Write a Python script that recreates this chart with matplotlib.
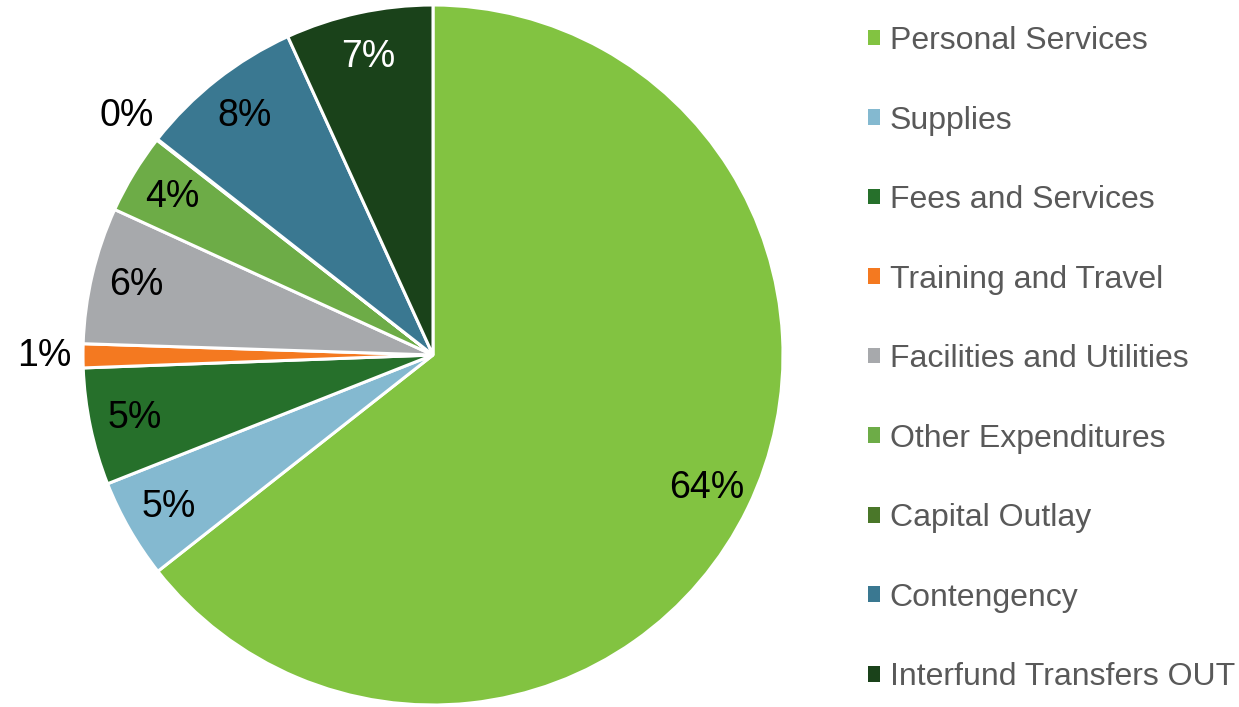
import numpy as np
import matplotlib
matplotlib.use('Agg')
import matplotlib.pyplot as plt
from matplotlib.patches import Patch

categories = ['Personal Services', 'Supplies', 'Fees and Services', 'Training and Travel',
              'Facilities and Utilities', 'Other Expenditures', 'Capital Outlay',
              'Contengency', 'Interfund Transfers OUT']
shares = [64.3, 4.6, 5.4, 1.1, 6.3, 3.7, 0.05, 7.6, 6.8]
colors = ['#82C341', '#84B9D0', '#26702B', '#F47920', '#A7A9AC',
          '#6DAC47', '#4A7729', '#3A7891', '#1A421A']
outside = ['Training and Travel', 'Capital Outlay']

plt.rcParams['font.family'] = ['Liberation Sans', 'DejaVu Sans']

W, H = 1239, 707
fig = plt.figure(figsize=(W / 100, H / 100), dpi=100)
cx, cy, r = 433, 355, 350
ax = fig.add_axes([(cx - r) / W, (H - cy - r) / H, 2 * r / W, 2 * r / H])

wedges, _ = ax.pie(shares, colors=colors, startangle=90, counterclock=False,
                   radius=1, wedgeprops=dict(edgecolor='white', linewidth=2.2))
ax.set_xlim(-1, 1)
ax.set_ylim(-1, 1)
ax.set_aspect('equal')

total = sum(shares)
for w, name, val in zip(wedges, categories, shares):
    mid = np.deg2rad((w.theta1 + w.theta2) / 2)
    d = 1.11 if name in outside else 0.87
    col = 'white' if name == 'Interfund Transfers OUT' else 'black'
    ax.text(d * np.cos(mid), d * np.sin(mid), f'{round(val / total * 100):.0f}%',
            ha='center', va='center', fontsize=27, color=col, clip_on=False)

handles = [Patch(facecolor=c, edgecolor='none') for c in colors]
leg = fig.legend(handles, categories, loc='upper left', bbox_to_anchor=(868 / W, 1 - 26 / H),
                 frameon=False, fontsize=23, labelcolor='#595959',
                 handlelength=0.38, handleheight=0.38, handletextpad=0.3,
                 labelspacing=1.55, borderaxespad=0, borderpad=0)

fig.savefig('out.png', dpi=100)
